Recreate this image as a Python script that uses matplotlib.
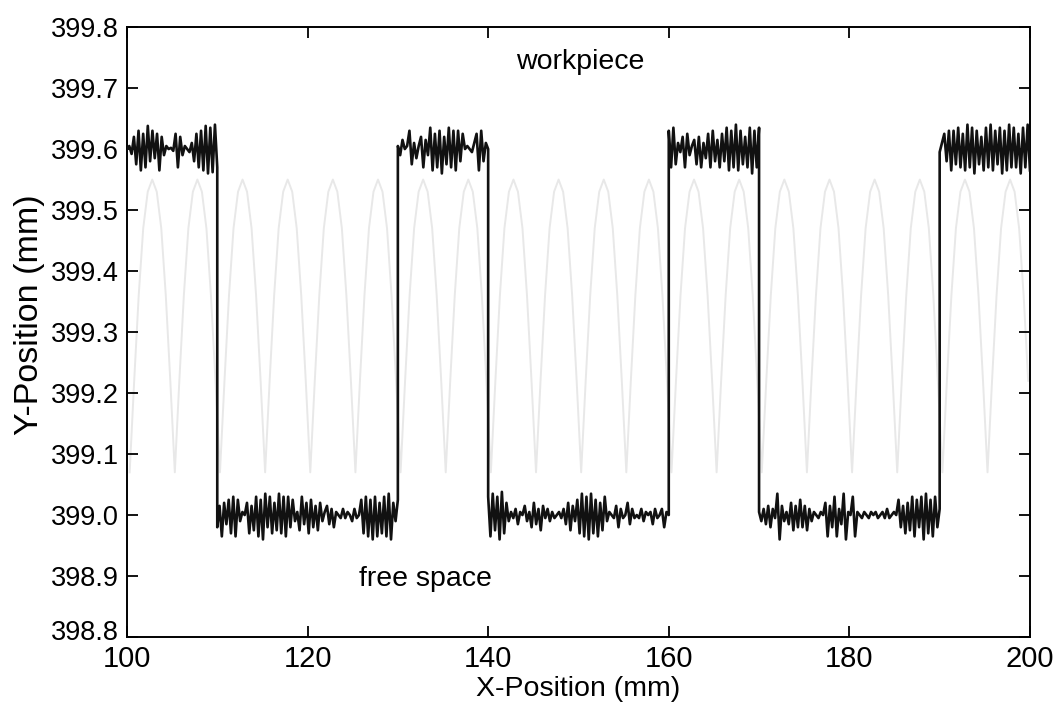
import numpy as np
import matplotlib
matplotlib.use('Agg')
import matplotlib.pyplot as plt
import matplotlib.transforms as mtransforms

plt.rcParams['font.family'] = ['Liberation Sans', 'DejaVu Sans']

# plateau segments of the measured trace (x start, x end, nominal level)
seg_start = [100, 110, 130, 140, 160, 170, 190]
seg_end = [110, 130, 140, 160, 170, 190, 200]
seg_level = [399.6, 399.0, 399.6, 399.0, 399.6, 399.0, 399.6]

# noise, in micrometres, one list per plateau
noise = [
    [0, 5, -8, 20, -25, 30, -35, 25, -30, 38, -20, 30, -15, 25, -35, 20, -10, 5, 0, 2,
     -3, 25, -30, 20, -10, 5, 0, -5, 10, -20, 25, -30, 30, -35, 38, -40, 35, -38, 40, -30],
    [-20, 15, -35, 20, -15, 25, -30, 30, -35, 25, -10, 5, 0, 20, -30, 15, -25, 30, -35, 25,
     -40, 35, -20, 30, -30, 20, -25, 35, -30, 30, -35, 30, -20, 25, -10, 5, -25, 30, -15, 20,
     -30, 25, -20, 15, -25, 20, -10, 5, 15, -15, 10, -20, 5, 0, -5, 10, -5, 5, 0, -10,
     10, -5, 0, 25, -30, 30, -35, 25, -40, 30, -35, 20, -30, 30, -35, 35, -40, 20, -10, 25],
    [5, -10, 15, 0, 5, 30, -25, 10, -15, 5, 20, -30, 15, -10, 35, -35, 25, -30, 30, -40,
     20, -25, 35, -30, 30, -35, 30, -20, 25, 0, 5, 0, -5, 10, 25, -35, 30, -20, 10, 0],
    [30, -35, 35, -25, 30, -40, 38, -30, 20, -10, 5, -5, 10, -15, 5, 0, 15, -10, 5, -20,
     20, -15, 10, -25, 15, -5, 10, -10, 5, -5, 0, 5, -5, 10, -15, 20, -25, 15, -10, 25,
     -30, 35, -35, 30, -40, 35, -30, 25, -35, 20, -25, 30, -10, 5, 0, -5, 15, -20, 10, -5,
     0, 20, -15, 10, -5, 0, -5, 10, -10, 5, 0, 5, -15, 10, -5, 0, 10, -20, 5, 0],
    [30, -30, 35, -25, 10, -5, 20, -30, 25, -10, 5, 15, -25, 20, -30, 10, -15, 25, -30, 30,
     -20, 15, -30, 25, -20, 35, -35, 30, -30, 40, -35, 30, -25, 20, -30, 35, -40, 30, -30, 35],
    [5, -10, 10, -15, 15, -20, 10, -5, 35, -40, 15, -10, 5, -15, 20, -25, 15, -20, 25, -20,
     15, -25, 10, -10, 5, 0, -5, 5, 0, 20, -35, 15, -20, 30, -35, 10, -15, 35, -40, 5,
     0, 30, -35, 5, 0, -5, 5, 0, -5, 5, 0, 5, -5, 0, 5, -5, 10, -5, 0, 5,
     0, 25, -20, 15, -30, 20, -25, 30, -35, 25, -20, 30, -40, 35, -30, 25, -35, 30, -20, 10],
    [-5, 10, 25, -20, 30, -35, 30, -25, 35, -30, 25, -35, 40, -30, 35, -40, 30, -25, 20, -35,
     35, -30, 40, -35, 30, -25, 35, -40, 30, -35, 40, -30, 35, -30, 25, -40, 35, -30, 40, -35],
]

# faint bleed-through curve from the facing page
ghost_peaks = [102.8, 107.8, 112.8, 117.8, 122.8, 127.8, 132.8, 137.8, 142.8, 147.8,
               152.8, 157.8, 162.8, 167.8, 172.8, 177.8, 182.8, 187.8, 192.8, 197.8]
ghost_dx = [-2.5, -2.0, -1.5, -1.0, -0.5, 0.0, 0.5, 1.0, 1.5, 2.0]
ghost_y = [399.07, 399.22, 399.36, 399.47, 399.53, 399.55, 399.53, 399.47, 399.36, 399.22]

xs, ys = [], []
for s, e, lev, nz in zip(seg_start, seg_end, seg_level, noise):
    xx = np.linspace(s, e, len(nz))
    xs.extend(xx)
    ys.extend(lev + np.array(nz) / 1000.0)

gx, gy = [], []
for p in ghost_peaks:
    for dx, yv in zip(ghost_dx, ghost_y):
        gx.append(p + dx)
        gy.append(yv)

fig = plt.figure(figsize=(10.58, 7.12), dpi=100)
ax = fig.add_axes([0.120, 0.1053, 0.8535, 0.8567])
ax.plot(gx, gy, color='#e8e8e8', lw=1.4, zorder=1)
ax.plot(xs, ys, color='#111111', lw=1.9, zorder=3)

ax.set_xlim(100, 200)
ax.set_ylim(398.8, 399.8)
ax.set_xticks([100, 120, 140, 160, 180, 200])
ax.set_yticks(np.arange(398.8, 399.85, 0.1))
ax.set_yticklabels(['398.8', '398.9', '399.0', '399.1', '399.2', '399.3',
                    '399.4', '399.5', '399.6', '399.7', '399.8'])
ax.tick_params(direction='in', length=8, width=1.3, top=True, right=True, pad=6)
ax.tick_params(axis='y', labelsize=19.5)
ax.tick_params(axis='x', labelsize=21, pad=6)
for sp in ax.spines.values():
    sp.set_linewidth(1.4)

# lift the lowest y label a little so it clears the "100" below it
lbl = ax.yaxis.get_major_ticks()[0].label1
lbl.set_transform(lbl.get_transform() +
                  mtransforms.ScaledTranslation(0, 5 / 72, fig.dpi_scale_trans))

ax.set_xlabel('X-Position (mm)', fontsize=20.5, labelpad=2)
ax.set_ylabel('Y-Position (mm)', fontsize=24.5)
ax.yaxis.set_label_coords(-0.091, 0.528)
ax.text(150.2, 399.743, 'workpiece', fontsize=20.5, ha='center', va='center')
ax.text(133.0, 398.895, 'free space', fontsize=20.5, ha='center', va='center')

fig.savefig('out.png', dpi=100)
